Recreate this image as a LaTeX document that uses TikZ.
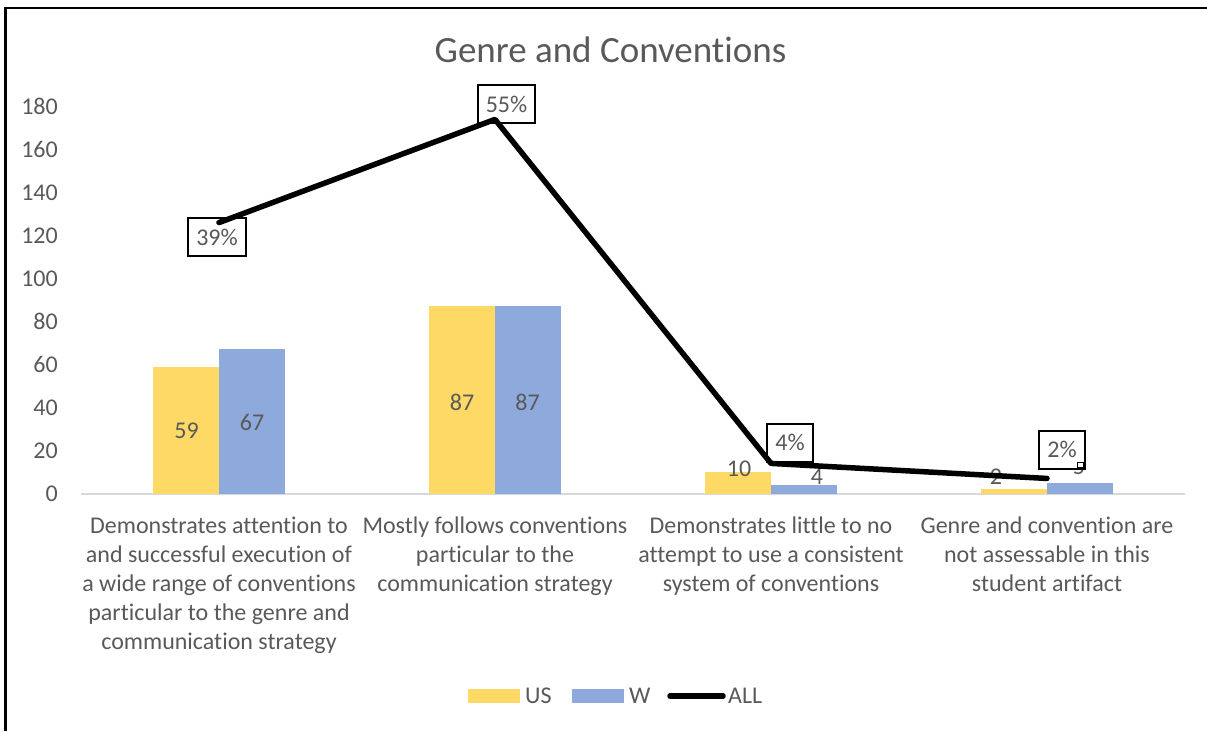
\documentclass[tikz,border=0pt]{standalone}
\usepackage{fontspec}
\setmainfont{Carlito}[Ligatures={NoCommon}]
\definecolor{txt}{HTML}{595959}
\definecolor{usc}{HTML}{FFD966}
\definecolor{wc}{HTML}{8EA9DB}
\definecolor{axc}{HTML}{D9D9D9}
\begin{document}
\begin{tikzpicture}[x=1pt,y=-1pt,
  lbl/.style={text=txt, font=\fontsize{24}{29}\selectfont, inner sep=0pt},
  ttl/.style={text=txt, font=\fontsize{37}{44}\selectfont, inner sep=0pt},
  cat/.style={lbl, align=center, anchor=north},
  pct/.style={draw=black, line width=2pt, fill=white, text=txt,
    font=\fontsize{24}{29}\selectfont, inner xsep=8pt, inner ysep=0pt,
    minimum height=38pt},
  usbar/.style={fill=usc},
  wbar/.style={fill=wc},
  allline/.style={line width=5.5pt, line cap=round, line join=round, draw=black}]
\useasboundingbox (0,0) rectangle (1207,731);
% frame
\draw[line width=2.5pt] (5.3,731) -- (5.3,7.8) -- (1207,7.8);
% title
\node[ttl] (title) at (610.5,50) {Genre and Conventions};
% y axis labels
\foreach \v in {0,20,...,180}{
  \node[lbl, anchor=east] (y\v) at (58,{493.5-\v*2.15}) {\v};
}
% axis line
\draw[axc, line width=1.5pt] (81,493.8) -- (1185,493.8);
% bars
\fill[usbar] (153,493.5) rectangle (219,{493.5-59*2.15});
\fill[wbar] (219,493.5) rectangle (285,{493.5-67*2.15});
\fill[usbar] (429,493.5) rectangle (495,{493.5-87*2.15});
\fill[wbar] (495,493.5) rectangle (561,{493.5-87*2.15});
\fill[usbar] (705,493.5) rectangle (771,{493.5-10*2.15});
\fill[wbar] (771,493.5) rectangle (837,{493.5-4*2.15});
\fill[usbar] (981,493.5) rectangle (1047,{493.5-2*2.15});
\fill[wbar] (1047,493.5) rectangle (1113,{493.5-5*2.15});
% bar labels
\node[lbl] (b1u) at (186.5,431) {59};
\node[lbl] (b1w) at (252,422.5) {67};
\node[lbl] (b2u) at (462,402.5) {87};
\node[lbl] (b2w) at (527.5,402.5) {87};
\node[lbl] (b3u) at (739,469) {10};
\node[lbl] (b3w) at (817,477) {4};
\node[lbl] (b4u) at (996,477) {2};
\node[lbl] (b4w) at (1079,467) {5};
% category labels
\node[cat] (c1) at (219,516.5) {Demonstrates attention to\\and successful execution of\\a wide range of conventions\\particular to the genre and\\communication strategy};
\node[cat] (c2) at (495,516.5) {Mostly follows conventions\\particular to the\\communication strategy};
\node[cat] (c3) at (771,516.5) {Demonstrates little to no\\attempt to use a consistent\\system of conventions};
\node[cat] (c4) at (1047,516.5) {Genre and convention are\\not assessable in this\\student artifact};
% percent boxes
\node[pct] (q1) at (217,237) {39\%};
\node[pct] (q2) at (506.5,104) {55\%};
\node[pct] (q3) at (790,442.5) {4\%};
\node[pct] (q4) at (1062,449.5) {2\%};
\draw[line width=1pt, fill=white] (1077.5,462) rectangle (1083.5,467.5);
% ALL line
\coordinate (p1) at (219,{493.5-126*2.15});
\coordinate (p2) at (495,{493.5-174*2.15});
\coordinate (p3) at (771,{493.5-14*2.15});
\coordinate (p4) at (1047,{493.5-7*2.15});
\draw[allline] (p1) -- (p2) -- (p3) -- (p4);
% legend
\fill[usbar] (468,689) rectangle (520,703);
\node[lbl, anchor=west] (lus) at (525,696) {US};
\fill[wbar] (572,689) rectangle (624,703);
\node[lbl, anchor=west] (lw) at (629,696) {W};
\coordinate (la) at (670,696);
\coordinate (lb) at (723,696);
\draw[allline] (la) -- (lb);
\node[lbl, anchor=west] (lall) at (728,696) {ALL};
\end{tikzpicture}
\end{document}
